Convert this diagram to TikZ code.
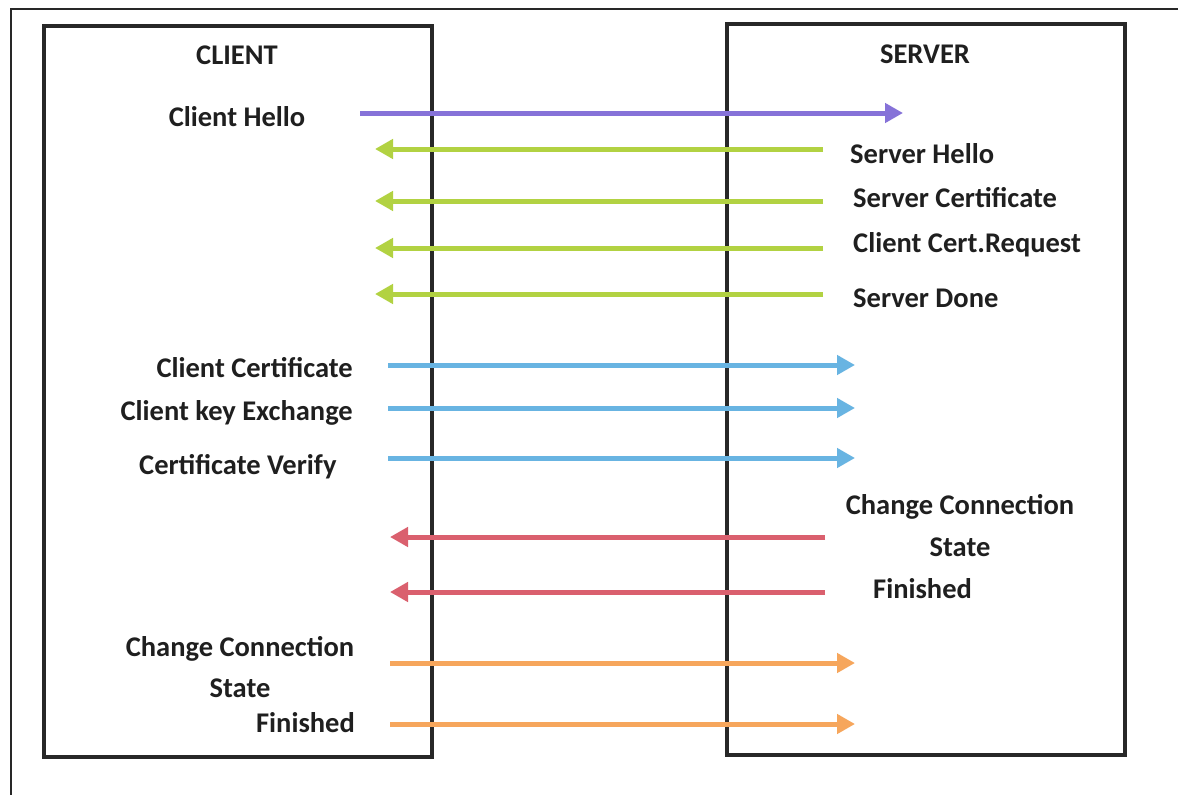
\documentclass[tikz,border=0pt]{standalone}
\usepackage{fontspec}
\setmainfont{Carlito}
\usetikzlibrary{arrows.meta}
\definecolor{msgpurple}{RGB}{134,114,216}
\definecolor{msggreen}{RGB}{178,210,66}
\definecolor{msgblue}{RGB}{104,180,226}
\definecolor{msgred}{RGB}{218,96,110}
\definecolor{msgorange}{RGB}{246,166,92}
\definecolor{frameline}{RGB}{40,40,40}
\tikzset{
  party/.style={draw=frameline, line width=3.2pt, fill=white},
  lbl/.style={font=\bfseries\fontsize{28.5}{32}\selectfont, text=black!88, inner sep=0pt},
  msg/.style={line width=5pt, -{Triangle[length=18pt,width=19pt]}},
}
\begin{document}
\begin{tikzpicture}[x=1pt,y=-1pt]
\useasboundingbox (0,0) rectangle (1178,795);
% page frame
\draw[frameline, line width=1.3pt] (11,795) -- (11,9) -- (1178,9);
% the two parties
\draw[party] (44,26) rectangle (432,757);
\draw[party] (727,24) rectangle (1125,755);
\node[lbl] (client) at (237,55) {CLIENT};
\node[lbl] (server) at (925,54) {SERVER};

% message end points
\foreach \n/\xa/\xb/\y in {m1/360/903/113, m2/823/375/149, m3/823/375/201, m4/823/375/248,
  m5/823/375/294, m6/388/855/365, m7/388/855/408, m8/388/855/458, m9/825/390/537,
  m10/825/390/592, m11/390/855/663, m12/390/855/724}{
  \coordinate (\n s) at (\xa,\y);
  \coordinate (\n e) at (\xb,\y);
}
% messages
\draw[msg, msgpurple] (m1s) -- (m1e);
\draw[msg, msggreen] (m2s) -- (m2e);
\draw[msg, msggreen] (m3s) -- (m3e);
\draw[msg, msggreen] (m4s) -- (m4e);
\draw[msg, msggreen] (m5s) -- (m5e);
\draw[msg, msgblue] (m6s) -- (m6e);
\draw[msg, msgblue] (m7s) -- (m7e);
\draw[msg, msgblue] (m8s) -- (m8e);
\draw[msg, msgred] (m9s) -- (m9e);
\draw[msg, msgred] (m10s) -- (m10e);
\draw[msg, msgorange] (m11s) -- (m11e);
\draw[msg, msgorange] (m12s) -- (m12e);

% message labels
\node[lbl] (t1) at (237,117) {Client Hello};
\node[lbl, anchor=west] (t2) at (850,154) {Server Hello};
\node[lbl, anchor=west] (t3) at (853,198) {Server Certificate};
\node[lbl, anchor=west] (t4) at (853,245) {Client Cert.Request};
\node[lbl, anchor=west] (t5) at (853,298) {Server Done};
\node[lbl, anchor=east] (t6) at (353,368) {Client Certificate};
\node[lbl, anchor=east] (t7) at (353,413) {Client key Exchange};
\node[lbl, anchor=west] (t8) at (139,467) {Certificate Verify};
\node[lbl] (t9) at (960,507) {Change Connection};
\node[lbl] (t9b) at (960,547) {State};
\node[lbl, anchor=west] (t10) at (873,589) {Finished};
\node[lbl] (t11) at (240,649) {Change Connection};
\node[lbl] (t11b) at (240,688) {State};
\node[lbl, anchor=east] (t12) at (355,723) {Finished};
\end{tikzpicture}
\end{document}
